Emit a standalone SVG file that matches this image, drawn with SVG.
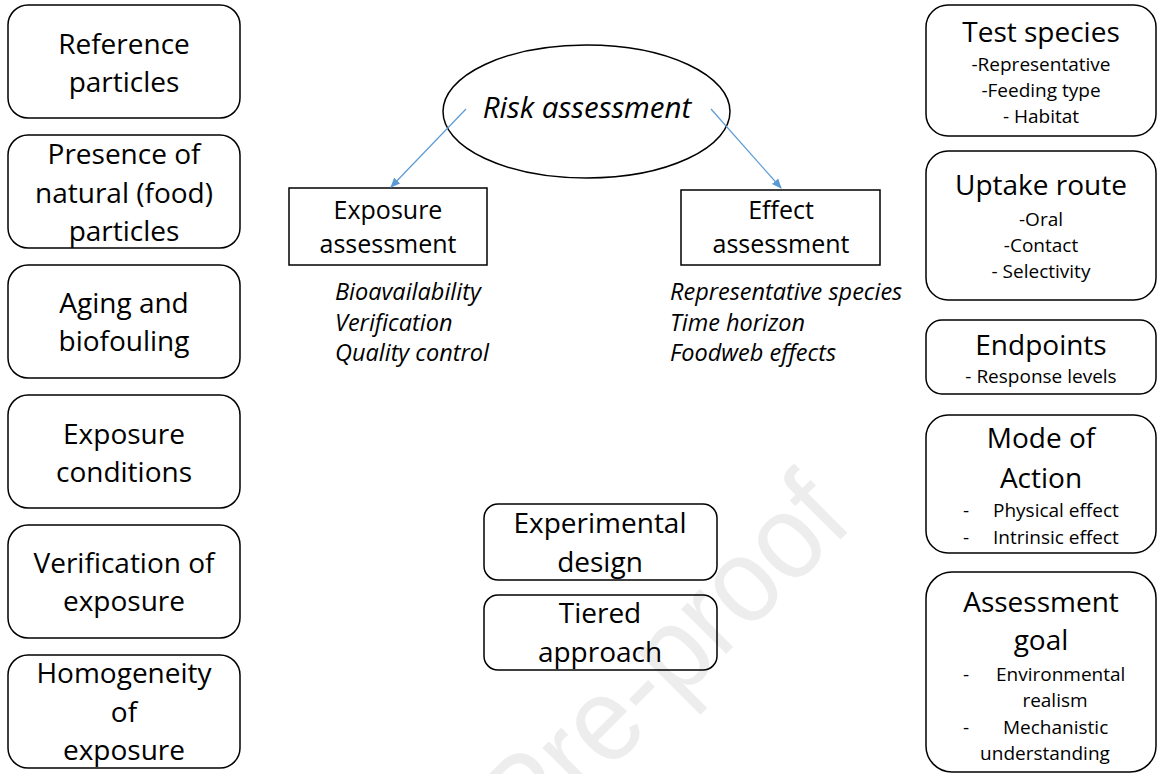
<svg xmlns="http://www.w3.org/2000/svg" width="1158" height="774" viewBox="0 0 1158 774">
<defs>
<style>
.box{fill:none;stroke:#000;stroke-width:1.5}
.t{font-family:"Open Sans","Noto Sans",sans-serif;fill:#000;text-anchor:middle}
.big{font-size:28px}
.mid{font-size:25px}
.sm{font-size:19px}
.it{font-style:italic}
.risk{font-size:29.5px}
.lst{font-family:"Open Sans","Noto Sans",sans-serif;font-style:italic;font-size:23.5px;fill:#000}
.st{text-anchor:start}
.conn{stroke:#5B9BD5;stroke-width:1.2;fill:none}
.wm{font-family:"Liberation Sans",Arial,sans-serif;font-size:120px;fill:#ededed}
</style>
<marker id="ah" viewBox="0 0 10 10" refX="9" refY="5" markerWidth="10" markerHeight="10" markerUnits="userSpaceOnUse" orient="auto">
<path d="M0,0.8 L10,5 L0,9.2 z" fill="#5B9BD5"/>
</marker>
</defs>
<rect width="1158" height="774" fill="#fff"/>
<text class="wm" transform="translate(530,850) rotate(-45)" textLength="460" lengthAdjust="spacingAndGlyphs">Pre-proof</text>

<g id="reference-particles"><rect class="box" x="8" y="5" width="232" height="113" rx="20"/>
<text class="t big" x="124" y="54">Reference</text><text class="t big" x="124" y="92">particles</text></g>
<g id="natural-particles"><rect class="box" x="8" y="135" width="232" height="113" rx="20"/>
<text class="t big" x="124" y="164">Presence of</text><text class="t big" x="124" y="203">natural (food)</text><text class="t big" x="124" y="241">particles</text></g>
<g id="aging"><rect class="box" x="8" y="265" width="232" height="113" rx="20"/>
<text class="t big" x="124" y="313">Aging and</text><text class="t big" x="124" y="351">biofouling</text></g>
<g id="exposure-conditions"><rect class="box" x="8" y="395" width="232" height="113" rx="20"/>
<text class="t big" x="124" y="444">Exposure</text><text class="t big" x="124" y="482">conditions</text></g>
<g id="verification"><rect class="box" x="8" y="525" width="232" height="113" rx="20"/>
<text class="t big" x="124" y="573">Verification of</text><text class="t big" x="124" y="611">exposure</text></g>
<g id="homogeneity"><rect class="box" x="8" y="655" width="232" height="113" rx="20"/>
<text class="t big" x="124" y="683">Homogeneity</text><text class="t big" x="124" y="722">of</text><text class="t big" x="124" y="760">exposure</text></g>

<g id="risk-assessment"><ellipse class="box" cx="586.5" cy="111.5" rx="143.5" ry="66.5"/>
<text class="t risk it" x="587" y="118">Risk assessment</text></g>
<g id="exposure-assessment"><rect class="box" x="289" y="188" width="198" height="77"/>
<text class="t mid" x="388" y="219">Exposure</text><text class="t mid" x="388" y="253">assessment</text></g>
<g id="exposure-list"><text class="lst" x="335" y="300">Bioavailability</text><text class="lst" x="335" y="331">Verification</text><text class="lst" x="335" y="361">Quality control</text></g>
<g id="effect-assessment"><rect class="box" x="681" y="190" width="199" height="75"/>
<text class="t mid" x="781" y="219">Effect</text><text class="t mid" x="781" y="253">assessment</text></g>
<g id="effect-list"><text class="lst" x="670" y="300">Representative species</text><text class="lst" x="670" y="331">Time horizon</text><text class="lst" x="670" y="361">Foodweb effects</text></g>

<g id="experimental-design"><rect class="box" x="484" y="504" width="233" height="76" rx="14"/>
<text class="t big" x="600" y="533">Experimental</text><text class="t big" x="600" y="572">design</text></g>
<g id="tiered-approach"><rect class="box" x="484" y="595" width="233" height="75" rx="14"/>
<text class="t big" x="600" y="623">Tiered</text><text class="t big" x="600" y="662">approach</text></g>

<g id="test-species"><rect class="box" x="926" y="5" width="230" height="131" rx="22"/>
<text class="t big" x="1041" y="42">Test species</text>
<text class="t sm" x="1041" y="71">-Representative</text><text class="t sm" x="1041" y="97">-Feeding type</text><text class="t sm" x="1041" y="123">- Habitat</text></g>
<g id="uptake-route"><rect class="box" x="926" y="151" width="230" height="149" rx="22"/>
<text class="t big" x="1041" y="195">Uptake route</text>
<text class="t sm" x="1041" y="226">-Oral</text><text class="t sm" x="1041" y="252">-Contact</text><text class="t sm" x="1041" y="278">- Selectivity</text></g>
<g id="endpoints"><rect class="box" x="926" y="320" width="230" height="74" rx="16"/>
<text class="t big" x="1041" y="355">Endpoints</text>
<text class="t sm" x="1041" y="383">- Response levels</text></g>
<g id="mode-of-action"><rect class="box" x="926" y="415" width="230" height="138" rx="22"/>
<text class="t big" x="1041" y="448">Mode of</text><text class="t big" x="1041" y="488">Action</text>
<text class="t sm st" x="963" y="517">-</text><text class="t sm st" x="993" y="517">Physical effect</text>
<text class="t sm st" x="963" y="544">-</text><text class="t sm st" x="993" y="544">Intrinsic effect</text></g>
<g id="assessment-goal"><rect class="box" x="926" y="572" width="230" height="200" rx="26"/>
<text class="t big" x="1041" y="612">Assessment</text><text class="t big" x="1041" y="650">goal</text>
<text class="t sm st" x="963" y="681">-</text><text class="t sm st" x="996" y="681">Environmental</text>
<text class="t sm" x="1055" y="707">realism</text>
<text class="t sm st" x="963" y="734">-</text><text class="t sm st" x="1003" y="734">Mechanistic</text>
<text class="t sm" x="1045" y="760">understanding</text></g>

<g id="connectors">
<line class="conn" x1="466" y1="109" x2="391" y2="187" marker-end="url(#ah)"/>
<line class="conn" x1="711" y1="109" x2="781" y2="188" marker-end="url(#ah)"/>
</g>
</svg>
